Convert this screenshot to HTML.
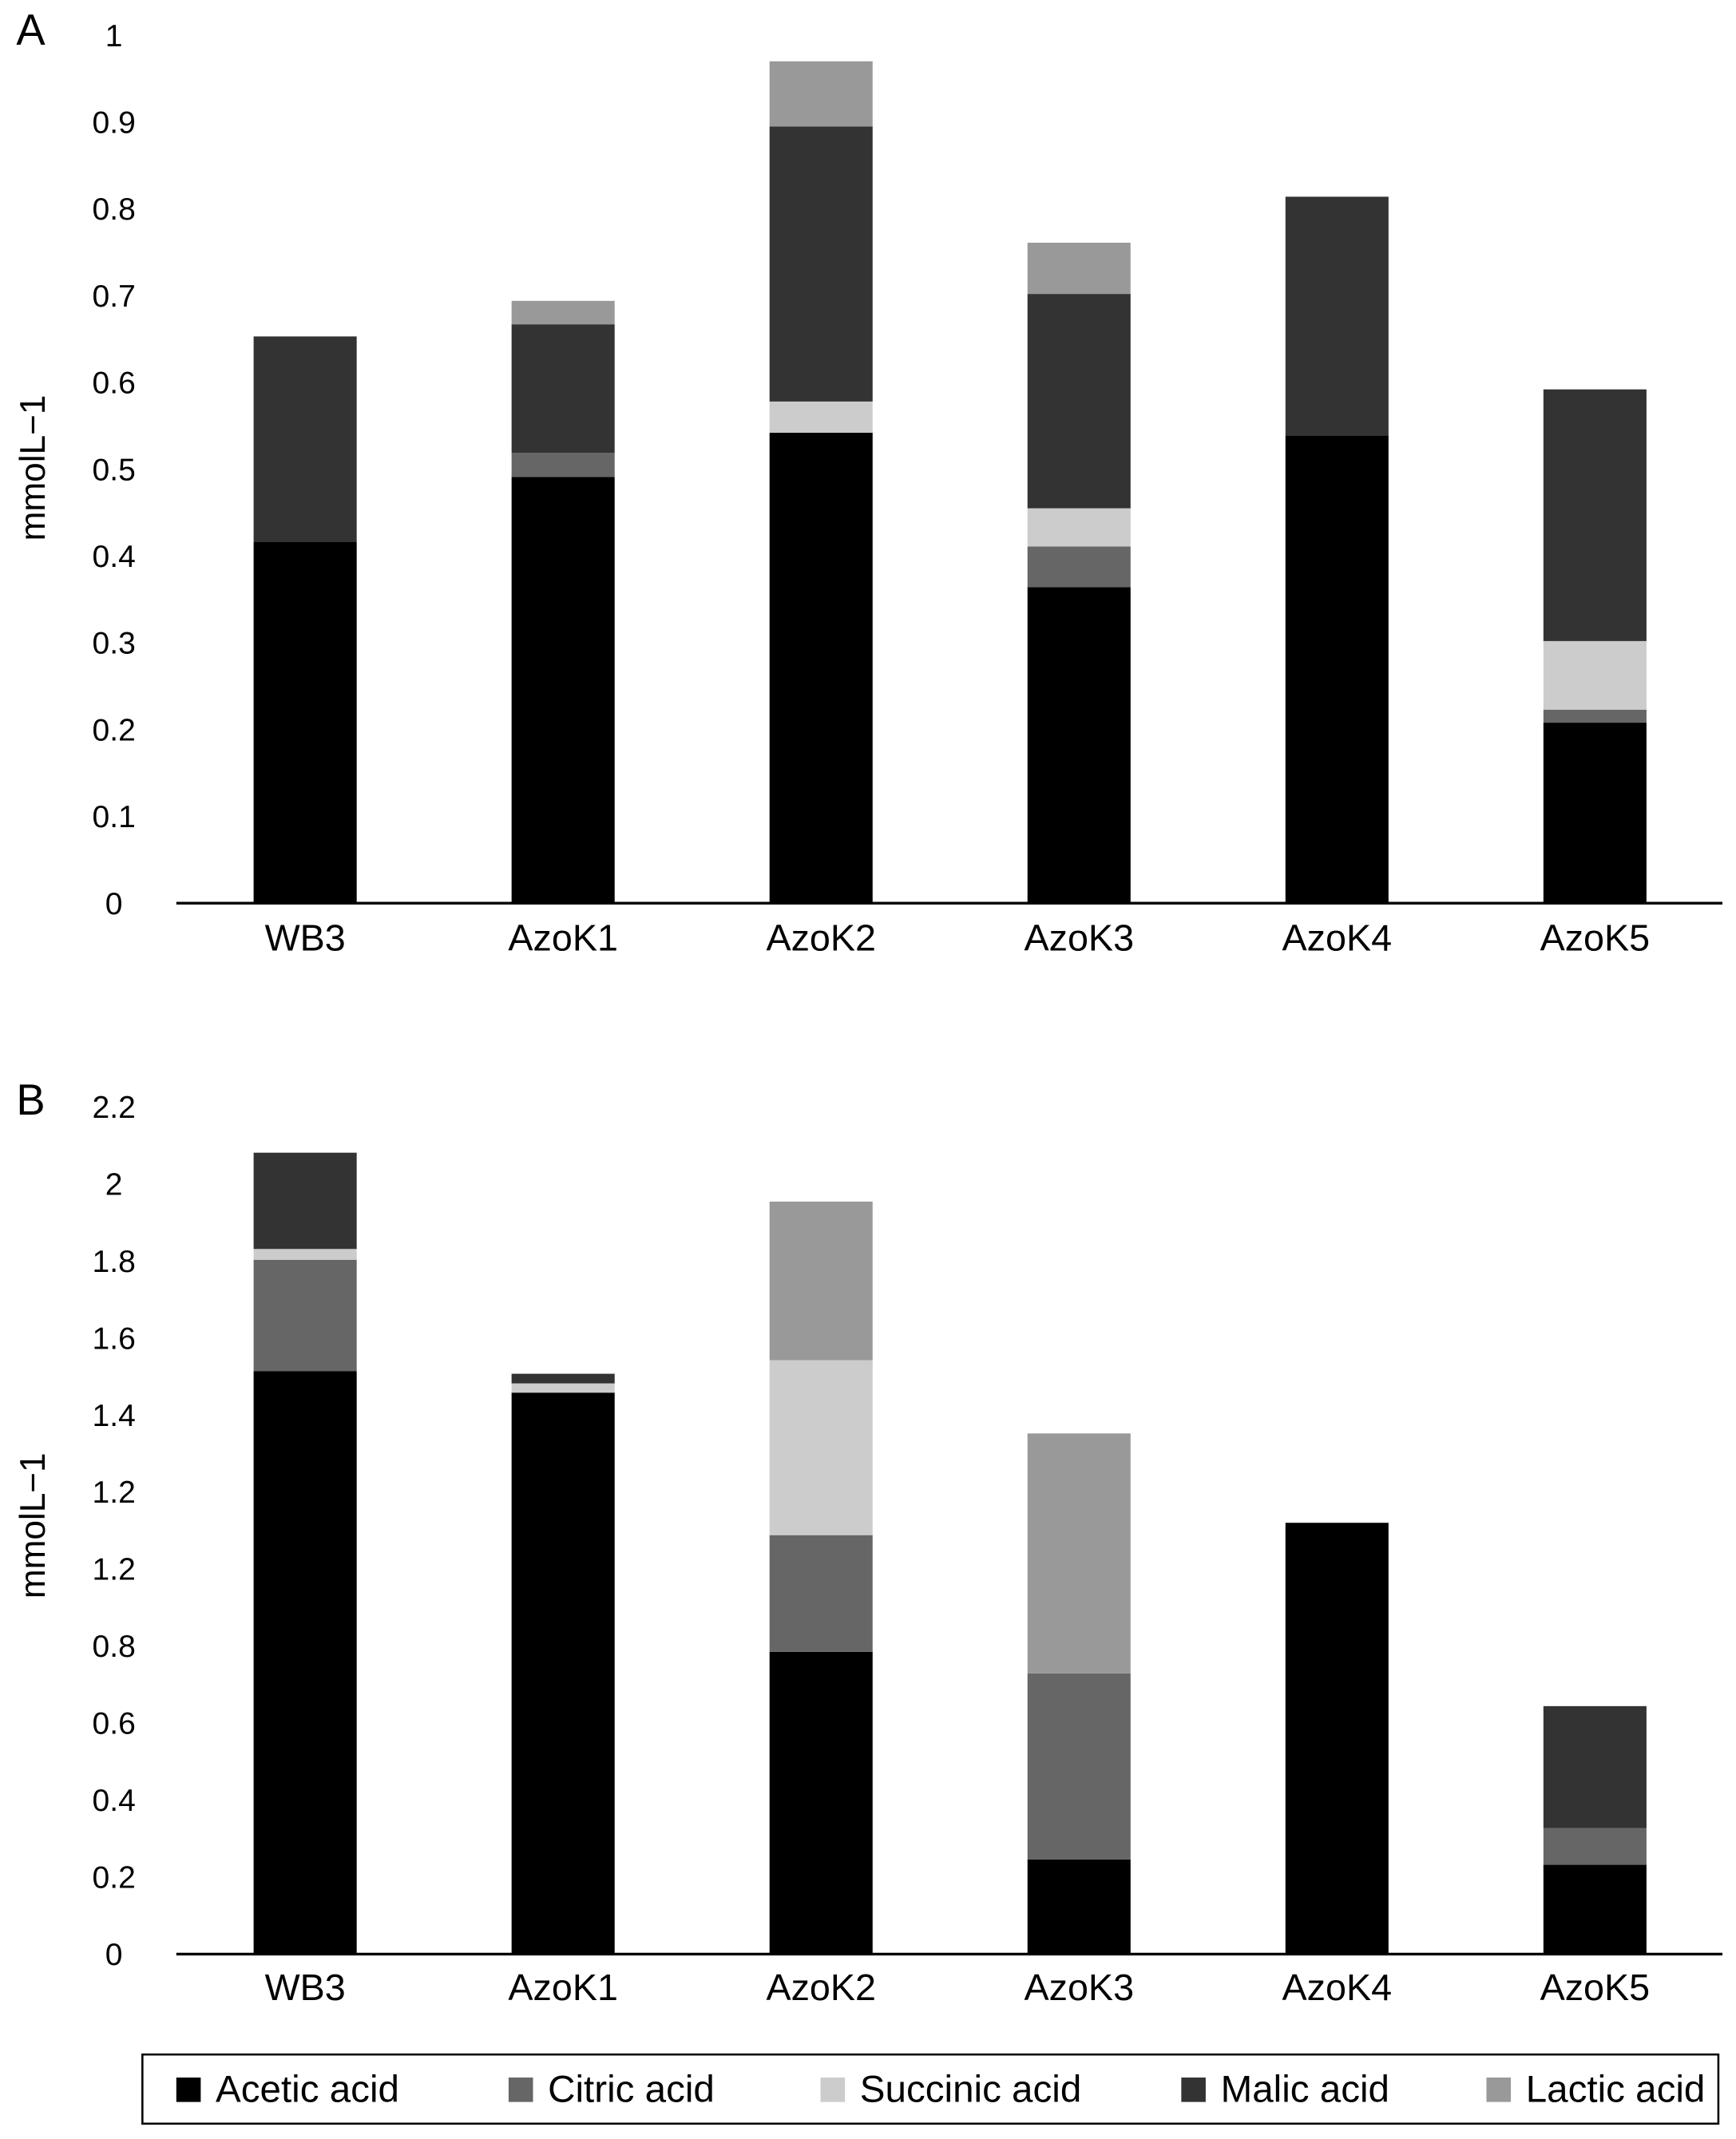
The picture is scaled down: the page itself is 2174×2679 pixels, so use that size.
<!DOCTYPE html>
<html>
<head>
<meta charset="utf-8">
<style>
html,body{margin:0;padding:0;background:#fff;}
svg{display:block;font-family:"Liberation Sans",Arial,sans-serif;}
</style>
</head>
<body>
<svg id="chart" width="2174" height="2679" viewBox="0 0 1280 1577.3" xmlns="http://www.w3.org/2000/svg">
<rect width="1280" height="1577.3" fill="#fff"/>
<g id="panelA"></g>
<g id="panelB"></g>
<g id="legend"></g>
</svg>
<script>
const categories = ["WB3","AzoK1","AzoK2","AzoK3","AzoK4","AzoK5"];
const seriesNames = ["Acetic acid","Citric acid","Succinic acid","Malic acid","Lactic acid"];
const seriesColors = ["#000000","#666666","#cccccc","#333333","#999999"];
// Panel A values (mmol/L)
const aAcetic   = [0.416,0.491,0.542,0.364,0.539,0.208];
const aCitric   = [0,0.028,0,0.047,0,0.015];
const aSuccinic = [0,0,0.036,0.044,0,0.079];
const aMalic    = [0.237,0.148,0.317,0.247,0.275,0.290];
const aLactic   = [0,0.027,0.075,0.059,0,0];
const aTicks = ["0","0.1","0.2","0.3","0.4","0.5","0.6","0.7","0.8","0.9","1"];
// Panel B values
const bAcetic   = [1.514,1.458,0.785,0.246,1.120,0.232];
const bCitric   = [0.289,0,0.303,0.483,0,0.095];
const bSuccinic = [0.028,0.024,0.454,0,0,0];
const bMalic    = [0.250,0.025,0,0,0,0.317];
const bLactic   = [0,0,0.412,0.623,0,0];
const bTicks = ["0","0.2","0.4","0.6","0.8","1.2","1.2","1.4","1.6","1.8","2","2.2"];

const NS="http://www.w3.org/2000/svg";
function mk(tag,attrs,parent){const e=document.createElementNS(NS,tag);for(const k in attrs)e.setAttribute(k,attrs[k]);parent.appendChild(e);return e;}

function drawPanel(g,letter,series,ticks,tickStep,y0,pxPerUnit,labelY,ylabelY,letterY){
  const yScale=v=>y0-v*pxPerUnit;
  const xCenter=i=>225+i*190.2;
  const bw=76;
  const L=mk("text",{x:12,y:letterY,"font-size":32,fill:"#000"},g);L.textContent=letter;
  
  
  ticks.forEach((t,i)=>{
    const tx=mk("text",{x:84,y:yScale(i*tickStep)+8,"font-size":23,"text-anchor":"middle",fill:"#000"},g);
    tx.textContent=t;
    
    
  });
  const yl=mk("text",{x:0,y:0,"font-size":26,"text-anchor":"middle",fill:"#000",transform:`translate(33,${ylabelY}) rotate(-90)`},g);
  yl.textContent="mmolL\u22121";
  
  
  categories.forEach((c,i)=>{
    let base=0;
    series.forEach((s,k)=>{
      const v=s[i]; if(v<=0)return;
      const r=mk("rect",{x:xCenter(i)-bw/2,y:yScale(base+v),width:bw,height:v*pxPerUnit,fill:seriesColors[k]},g);
      
      
      base+=v;
    });
    const cl=mk("text",{x:xCenter(i),y:labelY,"font-size":27.5,"text-anchor":"middle",fill:"#000"},g);
    cl.textContent=c;
    
    
  });
  const ax=mk("line",{x1:130,x2:1270,y1:y0,y2:y0,stroke:"#000","stroke-width":2},g);
  
  
}
drawPanel(document.getElementById("panelA"),"A",[aAcetic,aCitric,aSuccinic,aMalic,aLactic],aTicks,0.1,666,640,701,345,33);
drawPanel(document.getElementById("panelB"),"B",[bAcetic,bCitric,bSuccinic,bMalic,bLactic],bTicks,0.2,1441,284,1475,1125,822);

const lg=document.getElementById("legend");
const box=mk("rect",{x:105,y:1515,width:1162,height:51,fill:"#fff",stroke:"#000","stroke-width":1.5},lg);


const lx=[130,375,605,871,1096];
seriesNames.forEach((n,k)=>{
  const sw=mk("rect",{x:lx[k],y:1532,width:18,height:18,fill:seriesColors[k]},lg);
  
  
  const t=mk("text",{x:lx[k]+29,y:1550,"font-size":28,fill:"#000"},lg);
  t.textContent=n;
  
  
});
</script>
</body>
</html>
